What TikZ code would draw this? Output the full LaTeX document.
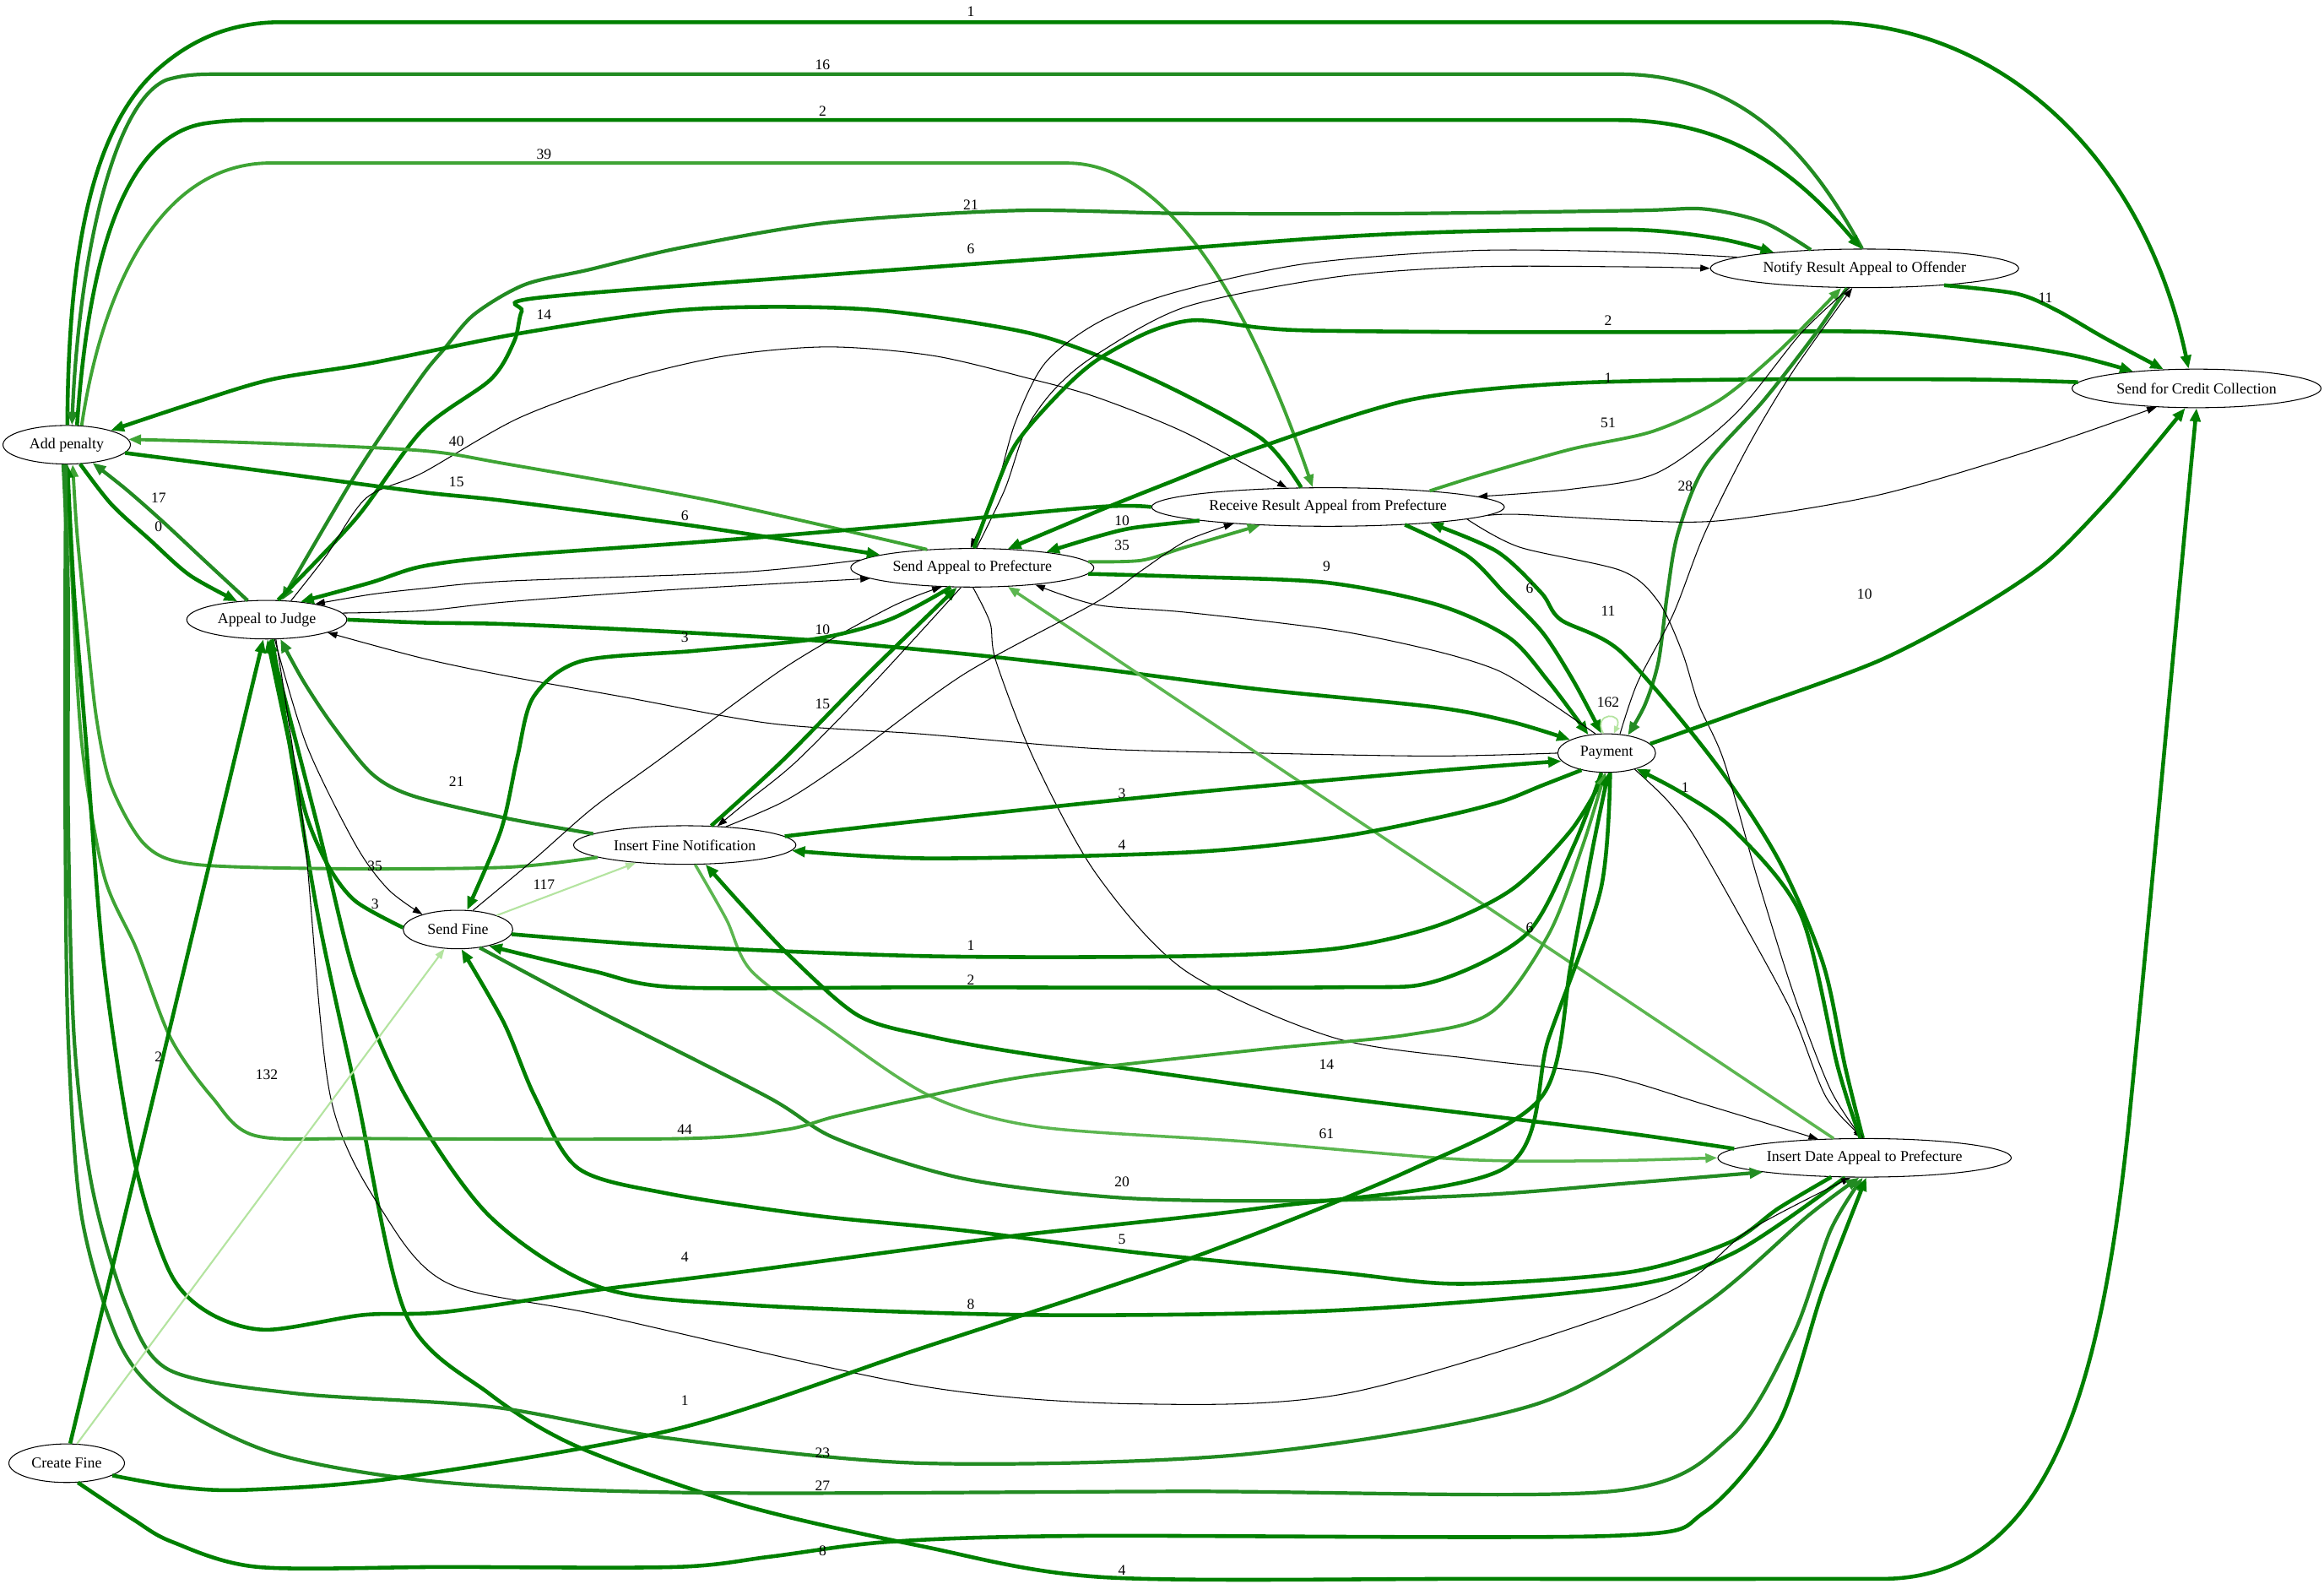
\documentclass[tikz,border=0pt]{standalone}
\usepackage{fontspec}
\setmainfont{Liberation Serif}
\usetikzlibrary{arrows.meta,shapes.geometric}
\definecolor{gA}{RGB}{0,128,0}
\definecolor{gB}{RGB}{34,139,34}
\definecolor{gC}{RGB}{62,164,52}
\definecolor{gD}{RGB}{92,182,80}
\definecolor{gE}{RGB}{180,228,160}
\newcommand\edgeplot[2]{\draw[#1] plot[smooth,tension=0.5] coordinates {#2};}
\begin{document}
\begin{tikzpicture}[x=1pt,y=-1pt,
  st/.style={draw,ellipse,line width=0.6pt,fill=white,minimum height=26pt,inner sep=0pt,font=\fontsize{10.2}{12}\selectfont},
  lbl/.style={inner sep=0pt,font=\fontsize{10}{12}\selectfont},
  ea/.style={line width=2.6pt,draw=gA,-{Triangle[length=9pt,width=7pt]}},
  eb/.style={line width=2.4pt,draw=gB,-{Triangle[length=9pt,width=7pt]}},
  ec/.style={line width=2.2pt,draw=gC,-{Triangle[length=8.5pt,width=6.5pt]}},
  ed/.style={line width=2pt,draw=gD,-{Triangle[length=8pt,width=6pt]}},
  ee/.style={line width=1.2pt,draw=gE,-{Triangle[length=7pt,width=5pt]}},
  ek/.style={line width=0.6pt,draw=black,-{Triangle[length=6.5pt,width=4.5pt]}}]
\useasboundingbox (0,0) rectangle (1568,1068);
\fill[white] (0,0) rectangle (1568,1068);
% nodes
\node[st,minimum width=86pt] (AP) at (45,300) {Add penalty};
\node[st,minimum width=108pt] (AJ) at (180,418) {Appeal to Judge};
\node[st,minimum width=74pt] (SF) at (309,627) {Send Fine};
\node[st,minimum width=150pt] (IFN) at (462,570) {Insert Fine Notification};
\node[st,minimum width=78pt] (CF) at (45,987) {Create Fine};
\node[st,minimum width=164pt] (SAP) at (656,383) {Send Appeal to Prefecture};
\node[st,minimum width=238pt] (RRA) at (896,342) {Receive Result Appeal from Prefecture};
\node[st,minimum width=208pt] (NRA) at (1258,181) {Notify Result Appeal to Offender};
\node[st,minimum width=168pt] (SCC) at (1482,262) {Send for Credit Collection};
\node[st,minimum width=66pt] (PAY) at (1084,508) {Payment};
\node[st,minimum width=198pt] (IDA) at (1258,781) {Insert Date Appeal to Prefecture};
% top arcs from Add penalty
\draw[ea] (AP.88) .. controls (46,170) and (62,88) .. (105,48) .. controls (125,30) and (150,16) .. (186,15) -- (1230,15) .. controls (1345,15) and (1445,100) .. (SCC.112);
\draw[eb] (NRA.97) .. controls (1225,110) and (1180,50) .. (1092,50) -- (150,50) .. controls (135,50) and (125,50) .. (112,54) .. controls (75,70) and (53,180) .. (AP.75);
\draw[ea] (AP.62) .. controls (60,170) and (85,90) .. (140,83) .. controls (155,81) and (165,81) .. (180,81) -- (1092,81) .. controls (1170,81) and (1215,120) .. (NRA.100);
\draw[ec] (AP.52) .. controls (68,200) and (105,112) .. (180,110) -- (720,110) .. controls (790,110) and (845,210) .. (RRA.128);
% Notify <-> Appeal to Judge
\edgeplot{eb}{(NRA.161) (1190,150) (1150,141) (1104,142) (950,144) (800,144) (686,142) (560,150) (460,167) (397,182) (354,192) (320,212) (300,235) (283,256) (240,320) (AJ.52)}
\edgeplot{ea}{(AJ.60) (240,350) (285,290) (331,256) (347,230) (352,210) (362,201) (550,186) (740,172) (900,160) (994,156) (1104,155) (1160,161) (NRA.170)}
% Receive Result -> Add penalty
\edgeplot{ea}{(RRA.144) (850,295) (778,256) (700,226) (600,210) (524,207) (450,210) (350,225) (250,245) (183,256) (130,272) (AP.18)}
% Appeal to Judge -> Receive Result (black arch)
\edgeplot{ek}{(AJ.38) (220,375) (247,336) (285,319) (350,282) (422,256) (490,240) (559,234) (630,240) (697,256) (740,268) (800,292) (RRA.155)}
% Send Appeal <-> Notify (black)
\edgeplot{ek}{(NRA.175) (1100,170) (994,169) (880,178) (790,198) (740,218) (705,245) (685,285) (672,330) (SAP.95)}
\edgeplot{ek}{(SAP.78) (678,330) (692,290) (712,262) (740,239) (800,207) (900,187) (994,180) (1100,180) (NRA.180)}
% Send Appeal <-> Credit
\edgeplot{ea}{(SAP.85) (668,340) (685,300) (715,265) (740,243) (775,224) (806,216) (850,221) (886,223) (1000,224) (1150,224) (1269,224) (1350,232) (1400,240) (SCC.165)}
\edgeplot{ea}{(SCC.177) (1330,256) (1176,256) (1050,259) (950,270) (849,302) (790,325) (745,343) (SAP.28)}
% Receive Result -> Notify, Notify -> Payment etc
\edgeplot{ec}{(RRA.9) (1000,320) (1060,303) (1115,291) (1160,270) (1200,237) (NRA.-140)}
\edgeplot{eb}{(NRA.-132) (1225,225) (1190,270) (1150,315) (1132,360) (1125,400) (1119,446) (1110,475) (PAY.40)}
\edgeplot{ek}{(PAY.55) (1105,460) (1129,414) (1150,360) (1180,300) (1210,250) (NRA.-122)}
\edgeplot{ek}{(NRA.-128) (1215,225) (1170,280) (1118,319) (1060,330) (RRA.4)}
\edgeplot{ea}{(NRA.-12) (1360,198) (1387,209) (1420,228) (SCC.150)}
\edgeplot{ek}{(RRA.-3) (1025,347) (1100,351) (1163,351) (1267,334) (1370,304) (SCC.-155)}
% Add penalty <-> Appeal to Judge
\edgeplot{eb}{(AJ.135) (140,380) (110,352) (85,330) (AP.-35)}
\edgeplot{ea}{(AP.-55) (75,340) (101,364) (128,388) (AJ.148)}
% Send Appeal <-> Add penalty
\edgeplot{ec}{(SAP.158) (481,338) (342,313) (285,304) (180,299) (AP.5)}
\edgeplot{ea}{(AP.-8) (180,318) (285,332) (342,338) (470,355) (SAP.172)}
% Receive Result -> Appeal to Judge
\edgeplot{ea}{(RRA.180) (740,342) (600,355) (480,365) (342,375) (285,382) (250,393) (AJ.28)}
% Send Appeal <-> Appeal to Judge (black)
\edgeplot{ek}{(SAP.176) (500,386) (342,392) (285,397) (250,401) (AJ.18)}
\edgeplot{ek}{(AJ.5) (285,412) (342,406) (450,398) (SAP.186)}
% Payment -> Appeal to Judge (black), Appeal to Judge -> Payment
\edgeplot{ek}{(PAY.180) (968,510) (850,508) (740,505) (620,495) (520,488) (420,470) (342,456) (285,444) (AJ.-12)}
\edgeplot{ea}{(AJ.0) (285,420) (342,421) (450,426) (550,432) (650,441) (740,451) (850,465) (968,477) (1020,487) (PAY.160)}
% Send Appeal <-> Receive Result
\edgeplot{ea}{(RRA.186) (765,356) (740,362) (SAP.12)}
\edgeplot{ec}{(SAP.3) (770,378) (800,369) (RRA.-165)}
% to Payment from above
\edgeplot{ea}{(SAP.-3) (800,389) (895,393) (970,408) (1018,430) (1045,460) (PAY.135)}
\edgeplot{ea}{(RRA.-13) (990,375) (1015,400) (1041,427) (1062,460) (PAY.105)}
\edgeplot{ek}{(PAY.120) (1040,470) (1010,452) (968,439) (900,425) (800,413) (740,408) (SAP.-15)}
% Insert Date <-> Receive Result / Payment
\edgeplot{ea}{(IDA.95) (1245,720) (1230,650) (1200,580) (1156,513) (1094,440) (1053,418) (1040,400) (1010,372) (RRA.-9)}
\edgeplot{ek}{(RRA.-5) (1025,369) (1094,385) (1119,406) (1135,440) (1146,475) (1163,513) (1185,590) (1210,670) (1235,735) (IDA.97)}
\edgeplot{ek}{(PAY.-30) (1125,540) (1143,564) (1175,620) (1209,683) (1232,740) (IDA.93)}
\edgeplot{ea}{(IDA.102) (1240,720) (1215,617) (1170,560) (1135,535) (PAY.-28)}
\edgeplot{ek}{(SAP.-88) (668,420) (672,446) (698,513) (740,590) (800,655) (900,700) (1000,715) (1082,725) (1150,745) (IDA.158)}
\draw[ed] (IDA.148) -- (SAP.-28);
% Payment -> Credit
\edgeplot{ea}{(PAY.12) (1180,478) (1267,446) (1330,413) (1380,380) (1420,340) (1450,305) (SCC.-120)}
% Appeal to Judge -> Credit (bottom)
\draw[ea] plot[smooth,tension=0.5] coordinates {(AJ.-75) (195,500) (215,620) (241,740) (274,887) (330,940) (390,976) (500,1015) (622,1043) (746,1064) (1000,1065) (1270,1065)} .. controls (1385,1065) and (1418,930) .. (1436,760) .. controls (1452,600) and (1468,420) .. (SCC.-90);
% Insert Fine Notification edges
\edgeplot{eb}{(IFN.173) (342,552) (279,537) (251,522) (225,490) (205,460) (AJ.-55)}
\edgeplot{ec}{(IFN.188) (342,585) (230,586) (131,583) (98,570) (75,530) (65,484) (58,420) (52,360) (AP.-73)}
\draw[ee] (SF.20) -- (IFN.-160);
\edgeplot{ea}{(IFN.5) (627,553) (800,535) (968,520) (PAY.190)}
\edgeplot{ea}{(PAY.-146) (1040,530) (1012,541) (968,552) (900,565) (800,575) (627,579) (IFN.-3)}
\edgeplot{ea}{(IFN.36) (528,513) (585,455) (SAP.-128)}
\edgeplot{ek}{(SAP.-120) (590,460) (538,513) (505,540) (IFN.30)}
\edgeplot{ek}{(IFN.24) (530,540) (571,513) (650,455) (740,406) (770,385) (800,365) (RRA.-170)}
\edgeplot{ek}{(SF.52) (360,580) (400,545) (444,513) (530,450) (600,410) (SAP.-148)}
\edgeplot{ea}{(SAP.-138) (600,418) (550,431) (469,439) (392,446) (360,470) (349,511) (338,560) (SF.65)}
\edgeplot{ea}{(IDA.176) (1080,762) (884,738) (700,712) (627,699) (579,685) (533,645) (500,610) (IFN.-43)}
\edgeplot{ed}{(IFN.-62) (490,620) (507,655) (558,693) (627,739) (700,760) (840,770) (985,782) (1080,783) (IDA.180)}
% Send Fine edges
\edgeplot{ea}{(SF.-5) (450,638) (627,645) (800,645) (900,640) (968,625) (1020,600) (1060,560) (PAY.-92)}
\edgeplot{ea}{(PAY.-105) (1062,570) (1030,630) (968,662) (900,666) (627,666) (457,666) (400,655) (SF.-28)}
\edgeplot{ea}{(SF.178) (240,608) (222,585) (207,551) (195,500) (AJ.-88)}
\edgeplot{ek}{(AJ.-68) (207,503) (240,570) (262,600) (SF.157)}
\edgeplot{eb}{(SF.-40) (400,680) (518,740) (564,768) (650,795) (757,808) (877,810) (1000,806) (1100,798) (IDA.-172)}
\edgeplot{ea}{(IDA.-150) (1200,815) (1167,838) (1100,858) (985,866) (900,858) (768,845) (650,830) (550,820) (450,805) (390,788) (361,740) (340,690) (SF.-80)}
% Insert Date <-> Appeal to Judge
\edgeplot{ea}{(IDA.-135) (1170,845) (1095,868) (900,884) (695,887) (500,880) (404,868) (330,820) (274,740) (240,660) (215,560) (AJ.-82)}
\edgeplot{ek}{(AJ.-65) (205,560) (223,740) (260,820) (303,866) (404,887) (622,935) (768,947) (913,939) (1116,876) (1180,830) (IDA.-125)}
% Add penalty bottom edges
\edgeplot{ec}{(AP.-95) (48,380) (55,500) (70,590) (92,640) (115,700) (143,740) (172,766) (250,768) (462,768) (530,762) (564,753) (622,740) (700,725) (850,708) (950,698) (1006,683) (1045,630) (1068,570) (PAY.-95)}
\edgeplot{ea}{(PAY.-80) (1080,600) (1045,700) (1015,788) (850,815) (681,834) (500,858) (404,870) (300,885) (245,887) (179,897) (140,885) (114,857) (90,780) (70,650) (58,500) (50,400) (AP.-88)}
\edgeplot{eb}{(AP.-100) (46,400) (46,550) (50,700) (62,800) (85,880) (114,924) (200,940) (332,949) (450,970) (622,987) (840,981) (1037,947) (1150,880) (1220,820) (IDA.-105)}
\edgeplot{eb}{(AP.-92) (44,400) (44,550) (46,700) (55,820) (80,905) (114,945) (187,981) (300,1000) (477,1007) (800,1006) (1087,1006) (1167,970) (1210,900) (1235,830) (IDA.-95)}
% Create Fine edges
\draw[ea] (CF.80) -- (AJ.-100);
\draw[ee] (CF.62) -- (SF.-125);
\edgeplot{ea}{(CF.-15) (120,1003) (166,1005) (267,997) (456,964) (620,910) (800,850) (950,790) (1040,740) (1060,650) (1075,570) (PAY.-85)}
\edgeplot{ea}{(CF.-60) (90,1025) (116,1040) (174,1057) (300,1057) (456,1057) (520,1050) (600,1040) (731,1036) (1087,1036) (1150,1020) (1200,960) (1230,870) (IDA.-85)}
% self loop
\draw[line width=1pt,draw=gE,-{Triangle[length=5pt,width=4pt]}] (PAY.100) .. controls (1074,480) and (1096,480) .. (PAY.70);
% labels
\node[lbl] (L1) at (655,8) {1};
\node[lbl] (L2) at (555,44) {16};
\node[lbl] (L3) at (555,75) {2};
\node[lbl] (L4) at (367,104) {39};
\node[lbl] (L5) at (655,138) {21};
\node[lbl] (L6) at (655,168) {6};
\node[lbl] (L7) at (367,212) {14};
\node[lbl] (L8) at (1085,216) {2};
\node[lbl] (L9) at (1085,255) {1};
\node[lbl] (L10) at (1085,285) {51};
\node[lbl] (L11) at (308,298) {40};
\node[lbl] (L12) at (308,325) {15};
\node[lbl] (L13) at (1137,328) {28};
\node[lbl] (L14) at (107,336) {17};
\node[lbl] (L15) at (462,348) {6};
\node[lbl] (L16) at (107,355) {0};
\node[lbl] (L17) at (757,351) {10};
\node[lbl] (L18) at (757,368) {35};
\node[lbl] (L19) at (895,382) {9};
\node[lbl] (L20) at (1032,397) {6};
\node[lbl] (L21) at (1258,401) {10};
\node[lbl] (L22) at (1085,412) {11};
\node[lbl] (L23) at (555,425) {10};
\node[lbl] (L24) at (462,430) {3};
\node[lbl] (L25) at (555,475) {15};
\node[lbl] (L26) at (1085,474) {162};
\node[lbl] (L27) at (308,527) {21};
\node[lbl] (L28) at (1137,531) {1};
\node[lbl] (L29) at (757,535) {3};
\node[lbl] (L30) at (757,570) {4};
\node[lbl] (L31) at (253,584) {35};
\node[lbl] (L32) at (367,597) {117};
\node[lbl] (L33) at (253,610) {3};
\node[lbl] (L34) at (1032,626) {6};
\node[lbl] (L35) at (655,638) {1};
\node[lbl] (L36) at (655,661) {2};
\node[lbl] (L37) at (107,713) {2};
\node[lbl] (L38) at (895,718) {14};
\node[lbl] (L39) at (180,725) {132};
\node[lbl] (L40) at (462,762) {44};
\node[lbl] (L41) at (895,765) {61};
\node[lbl] (L42) at (757,797) {20};
\node[lbl] (L43) at (757,836) {5};
\node[lbl] (L44) at (462,848) {4};
\node[lbl] (L45) at (655,880) {8};
\node[lbl] (L46) at (462,945) {1};
\node[lbl] (L47) at (555,980) {23};
\node[lbl] (L48) at (555,1002) {27};
\node[lbl] (L49) at (555,1046) {8};
\node[lbl] (L50) at (757,1059) {4};
\node[lbl] (L51) at (1380,201) {11};
\end{tikzpicture}
\end{document}
